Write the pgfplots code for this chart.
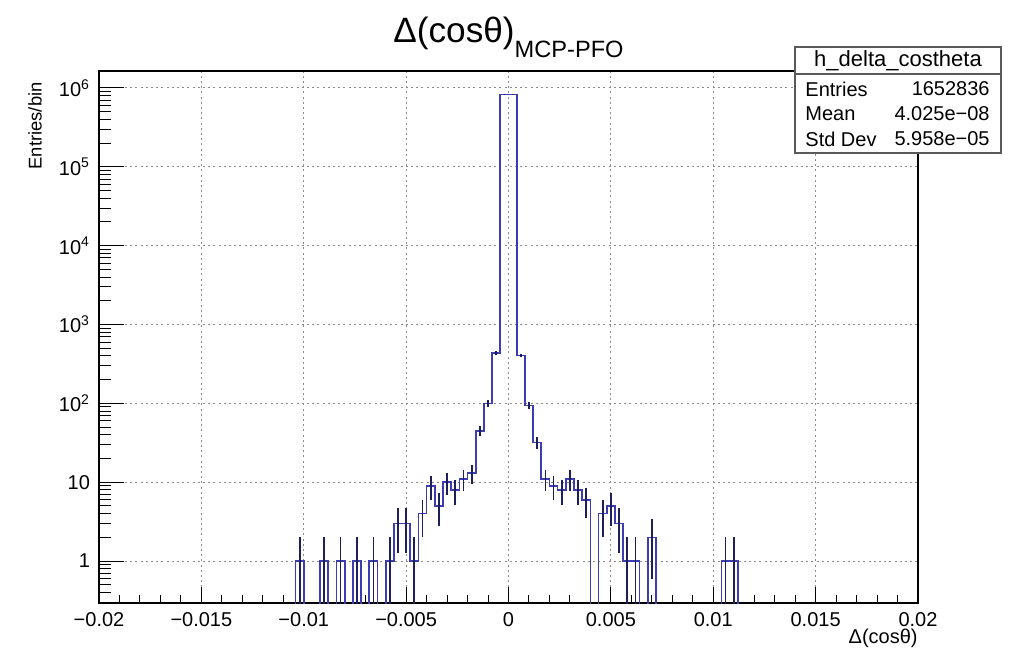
\documentclass[border=0pt]{standalone}
\usepackage{fontspec}
\setmainfont{Liberation Sans}
\usepackage{pgfplots}
\pgfplotsset{compat=1.18}
\usepackage{pgfplotstable}

\definecolor{histblue}{RGB}{60,60,180}
\definecolor{errnavy}{RGB}{30,30,90}
\definecolor{gridgray}{RGB}{140,140,140}
\definecolor{boxgray}{RGB}{90,90,90}

% bin left edge, content (0.001 = empty bin, drawn below the frame)
\pgfplotstableread{
x y
-0.0200 0.001
-0.0104 1
-0.0100 0.001
-0.0092 1
-0.0088 0.001
-0.0084 1
-0.0080 0.001
-0.0076 1
-0.0072 0.001
-0.0068 1
-0.0064 0.001
-0.0060 1
-0.0056 3
-0.0052 3
-0.0048 1
-0.0044 4
-0.0040 9
-0.0036 5
-0.0032 10
-0.0028 8
-0.0024 11
-0.0020 13
-0.0016 45
-0.0012 100
-0.0008 435
-0.0004 826000
0.0000 825500
0.0004 405
0.0008 94
0.0012 32
0.0016 11
0.0020 9
0.0024 8
0.0028 11
0.0032 8
0.0036 6
0.0040 0.001
0.0044 4
0.0048 5
0.0052 3
0.0056 1
0.0060 1
0.0064 0.001
0.0068 2
0.0072 0.001
0.0104 1
0.0108 1
0.0112 0.001
0.0200 0.001
}\histdata

% error bar ends (content -/+ sqrt(content)), one bin per pair of rows
\pgfplotstableread{
x y
-0.0102 0.001
-0.0102 2
nan nan
-0.0090 0.001
-0.0090 2
nan nan
-0.0082 0.001
-0.0082 2
nan nan
-0.0074 0.001
-0.0074 2
nan nan
-0.0066 0.001
-0.0066 2
nan nan
-0.0058 0.001
-0.0058 2
nan nan
-0.0054 1.268
-0.0054 4.732
nan nan
-0.0050 1.268
-0.0050 4.732
nan nan
-0.0046 0.001
-0.0046 2
nan nan
-0.0042 2
-0.0042 6
nan nan
-0.0038 6
-0.0038 12
nan nan
-0.0034 2.764
-0.0034 7.236
nan nan
-0.0030 6.838
-0.0030 13.162
nan nan
-0.0026 5.172
-0.0026 10.828
nan nan
-0.0022 7.683
-0.0022 14.317
nan nan
-0.0018 9.394
-0.0018 16.606
nan nan
-0.0014 38.29
-0.0014 51.71
nan nan
-0.0010 90
-0.0010 110
nan nan
-0.0006 414.1
-0.0006 455.9
nan nan
-0.0002 825091
-0.0002 826909
nan nan
0.0002 824592
0.0002 826408
nan nan
0.0006 384.9
0.0006 425.1
nan nan
0.0010 84.3
0.0010 103.7
nan nan
0.0014 26.34
0.0014 37.66
nan nan
0.0018 7.683
0.0018 14.317
nan nan
0.0022 6
0.0022 12
nan nan
0.0026 5.172
0.0026 10.828
nan nan
0.0030 7.683
0.0030 14.317
nan nan
0.0034 5.172
0.0034 10.828
nan nan
0.0038 3.551
0.0038 8.449
nan nan
0.0046 2
0.0046 6
nan nan
0.0050 2.764
0.0050 7.236
nan nan
0.0054 1.268
0.0054 4.732
nan nan
0.0058 0.001
0.0058 2
nan nan
0.0062 0.001
0.0062 2
nan nan
0.0070 0.586
0.0070 3.414
nan nan
0.0106 0.001
0.0106 2
nan nan
0.0110 0.001
0.0110 2
}\errdata

\begin{document}
\begin{tikzpicture}
\useasboundingbox (0,0) rectangle (507.5pt,325pt);
\fill[white] (0,0) rectangle (507.5pt,325pt);

\begin{axis}[
  scale only axis, width=409.5pt, height=266pt,
  at={(49.5pt,23.5pt)}, anchor=south west,
  xmin=-0.02, xmax=0.02,
  ymode=log, ymin=0.294, ymax=1.64e6,
  axis line style={line width=0.6pt},
  tick align=inside,
  tick style={black, line width=0.5pt},
  scaled x ticks=false,
  xtick={-0.02,-0.015,-0.01,-0.005,0,0.005,0.01,0.015,0.02},
  xticklabels={−0.02,−0.015,−0.01,−0.005,0,0.005,0.01,0.015,0.02},
  minor xtick={-0.019,-0.018,-0.017,-0.016,-0.014,-0.013,-0.012,-0.011,-0.009,-0.008,-0.007,-0.006,-0.004,-0.003,-0.002,-0.001,0.001,0.002,0.003,0.004,0.006,0.007,0.008,0.009,0.011,0.012,0.013,0.014,0.016,0.017,0.018,0.019},
  ytick={1,10,100,1000,10000,100000,1000000},
  yticklabels={1,10,10\textsuperscript{2},10\textsuperscript{3},10\textsuperscript{4},10\textsuperscript{5},10\textsuperscript{6}},
  xtick pos=bottom, ytick pos=left,
  major tick length=8pt, minor tick length=4pt,
  ytick style={draw=none},
  grid=major,
  major grid style={gridgray, line width=0.45pt, dash pattern=on 1pt off 1.6pt},
  tick label style={font=\fontsize{10}{12}\selectfont},
  xticklabel style={yshift=-1pt},
  yticklabel style={xshift=-1pt},
  unbounded coords=jump,
]
\addplot[histblue, line width=0.85pt, const plot mark left] table[x=x, y=y] {\histdata};
\addplot[errnavy, line width=0.85pt] table[x=x, y=y] {\errdata};
\end{axis}

% y-axis ticks (longer, as in ROOT)
\begin{axis}[
  scale only axis, width=409.5pt, height=266pt,
  at={(49.5pt,23.5pt)}, anchor=south west,
  xmin=-0.02, xmax=0.02,
  ymode=log, ymin=0.294, ymax=1.64e6,
  axis line style={line width=0.6pt},
  tick align=inside,
  tick style={black, line width=0.5pt},
  axis x line=none, axis y line*=left,
  ytick={1,10,100,1000,10000,100000,1000000},
  minor ytick={0.3,0.4,0.5,0.6,0.7,0.8,0.9,2,3,4,5,6,7,8,9,20,30,40,50,60,70,80,90,200,300,400,500,600,700,800,900,2000,3000,4000,5000,6000,7000,8000,9000,2e4,3e4,4e4,5e4,6e4,7e4,8e4,9e4,2e5,3e5,4e5,5e5,6e5,7e5,8e5,9e5},
  yticklabels={},
  major tick length=12.3pt, minor tick length=6.1pt,
]
\addplot[draw=none] coordinates {(0,1)};
\end{axis}

% title
\node[anchor=base west, inner sep=0pt] at (196.5pt,304pt)
  {\fontsize{17.6}{20}\selectfont Δ(cosθ)\raisebox{-7.5pt}{\fontsize{11.8}{14}\selectfont MCP-PFO}};

% axis titles
\node[rotate=90, anchor=east, inner sep=0pt, font=\fontsize{9.2}{10}\selectfont] at (17.5pt,284pt) {Entries/bin};
\node[anchor=east, inner sep=0pt, font=\fontsize{10}{12}\selectfont] at (459pt,6pt) {Δ(cosθ)};

% statistics box
\fill[white] (397.5pt,248.5pt) rectangle (500.5pt,301.5pt);
\draw[boxgray, line width=0.6pt] (397.5pt,248.5pt) rectangle (500.5pt,301.5pt);
\draw[boxgray, line width=0.6pt] (397.5pt,288pt) -- (500.5pt,288pt);
\node[inner sep=0pt, font=\fontsize{11}{12}\selectfont] at (449pt,294.5pt) {h\_delta\_costheta};
\begin{scope}[every node/.style={inner sep=0pt, font=\fontsize{10}{12}\selectfont}]
\node[anchor=west] at (402.5pt,280.5pt) {Entries};
\node[anchor=east] at (495pt,280.5pt) {1652836};
\node[anchor=west] at (402.5pt,268pt) {Mean};
\node[anchor=east] at (495pt,268pt) {4.025e−08};
\node[anchor=west] at (402.5pt,255.5pt) {Std Dev};
\node[anchor=east] at (495pt,255.5pt) {5.958e−05};
\end{scope}
\end{tikzpicture}
\end{document}
